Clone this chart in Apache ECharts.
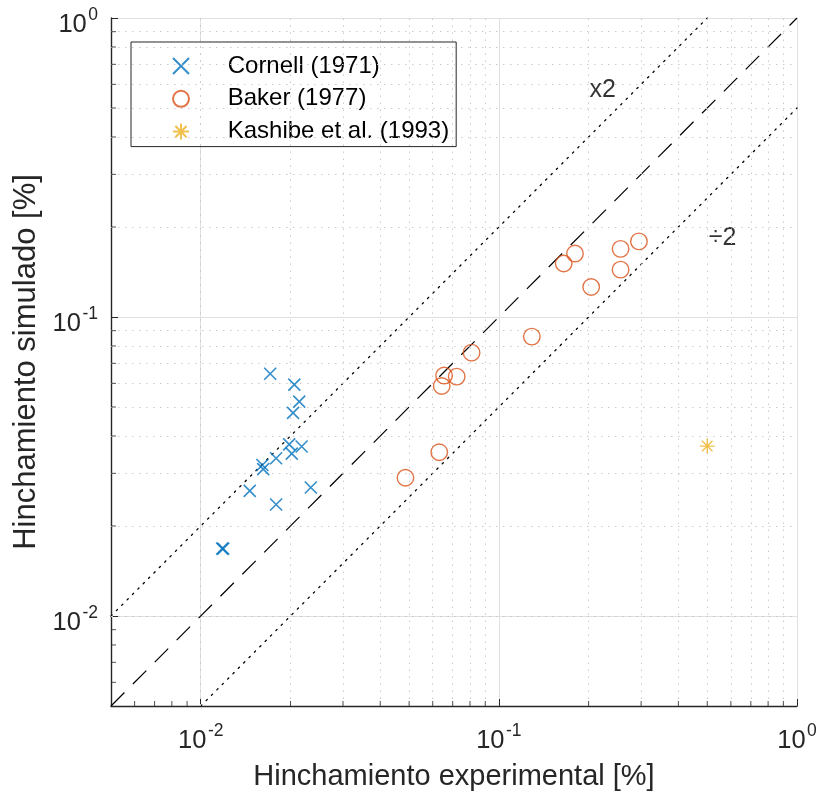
<!DOCTYPE html>
<html>
<head>
<meta charset="utf-8">
<script src="https://cdn.jsdelivr.net/npm/echarts@6/dist/echarts.min.js"></script>
<style>
  html, body { margin: 0; padding: 0; background: #ffffff; }
  #chart { width: 822px; height: 800px; }
</style>
</head>
<body>
<div id="chart"></div>
<script>
// Measured swelling (experimental) vs. simulated swelling, both in %
const cornellExp = [0.0171, 0.0206, 0.0214, 0.0204, 0.0198, 0.0218, 0.0202, 0.0179, 0.0161, 0.0162, 0.0146, 0.0234, 0.0179, 0.0118, 0.0119];
const cornellSim = [0.0646, 0.0594, 0.0521, 0.0478, 0.0375, 0.0369, 0.0349, 0.0337, 0.0320, 0.0310, 0.0262, 0.0269, 0.0236, 0.0168, 0.0168];

const bakerExp = [0.180, 0.165, 0.256, 0.295, 0.256, 0.204, 0.129, 0.081, 0.0655, 0.0722, 0.0643, 0.0631, 0.0486];
const bakerSim = [0.163, 0.151, 0.169, 0.179, 0.144, 0.126, 0.086, 0.076, 0.0637, 0.0632, 0.0588, 0.0353, 0.0290];

const kashibeExp = [0.50];
const kashibeSim = [0.037];

// Reference lines: 1:1, factor 2 above and below
const identityLine = [[0.005, 0.005], [1, 1]];
const doubleLine = [[0.005, 0.01], [0.5, 1]];
const halfLine = [[0.01, 0.005], [1, 0.5]];

// Annotation labels for the factor-2 bands
const bandLabels = [
  { text: 'x2', x: 0.223, y: 0.572 },
  { text: '\u00f72', x: 0.563, y: 0.184 }
];

// Axis range and minor (2..9 per decade) positions
const axisMin = 0.005;
const axisMax = 1;
const minorValues = [0.006, 0.007, 0.008, 0.009,
  0.02, 0.03, 0.04, 0.05, 0.06, 0.07, 0.08, 0.09,
  0.2, 0.3, 0.4, 0.5, 0.6, 0.7, 0.8, 0.9];

const FONT = '"Liberation Sans", Arial, Helvetica, sans-serif';
const INK = '#262626';

const zip = (a, b) => a.map((v, i) => [v, b[i]]);

function powerLabel(v) {
  const e = Math.log10(v);
  const r = Math.round(e);
  if (Math.abs(e - r) > 1e-6) return '';
  return '{b|10}{s|' + r + '}';
}

const powerRich = {
  b: { fontSize: 25.5, lineHeight: 37, fontFamily: FONT, color: INK, verticalAlign: 'middle' },
  s: { fontSize: 17.5, lineHeight: 17, fontFamily: FONT, color: INK, verticalAlign: 'top', padding: [0, 0, 0, 1.5] }
};

const crossPath = 'path://M0,0L10,10M10,0L0,10';
const starPath = 'path://M5,0L5,10M0,5L10,5M1.5,1.5L8.5,8.5M8.5,1.5L1.5,8.5';

const chart = echarts.init(document.getElementById('chart'), null, { renderer: 'canvas' });

const option = {
  animation: false,
  backgroundColor: '#ffffff',
  textStyle: { fontFamily: FONT },
  grid: { left: 111, right: 25, top: 18, bottom: 94, containLabel: false },
  legend: {
    data: ['Cornell (1971)', 'Baker (1977)', 'Kashibe et al. (1993)'],
    orient: 'vertical',
    left: 131,
    top: 42,
    padding: [12, 7, 3, 41],
    itemGap: 8.8,
    itemWidth: 16,
    itemHeight: 16,
    selectedMode: false,
    backgroundColor: '#ffffff',
    borderColor: INK,
    borderWidth: 1,
    borderRadius: 0,
    formatter: name => '{t|' + name + '}',
    textStyle: {
      rich: { t: { fontSize: 24, lineHeight: 26, color: '#000000', fontFamily: FONT, padding: [0, 0, 0, 33.7] } }
    }
  },
  xAxis: {
    type: 'log',
    logBase: 10,
    min: axisMin,
    max: axisMax,
    name: 'Hinchamiento experimental [%]',
    nameLocation: 'middle',
    nameGap: 56,
    nameTextStyle: { fontSize: 29, color: INK, fontFamily: FONT },
    axisLine: { show: true, onZero: false, lineStyle: { color: INK, width: 1.4 } },
    axisTick: { show: true, inside: true, length: 7, lineStyle: { color: INK, width: 1 } },
    splitLine: { show: true, lineStyle: { color: '#e0e0e0', width: 1 } },
    minorTick: { show: false },
    axisLabel: { margin: 16.5, fontSize: 25.5, formatter: powerLabel, rich: powerRich, showMinLabel: true, showMaxLabel: true }
  },
  yAxis: {
    type: 'log',
    logBase: 10,
    min: axisMin,
    max: axisMax,
    name: 'Hinchamiento simulado [%]',
    nameLocation: 'middle',
    nameGap: 67,
    nameRotate: 90,
    nameTextStyle: { fontSize: 31, color: INK, fontFamily: FONT },
    axisLine: { show: true, onZero: false, lineStyle: { color: INK, width: 1.4 } },
    axisTick: { show: true, inside: true, length: 7, lineStyle: { color: INK, width: 1 } },
    splitLine: { show: true, lineStyle: { color: '#e0e0e0', width: 1 } },
    minorTick: { show: false },
    axisLabel: { margin: 13, fontSize: 25.5, padding: [14, 0, 0, 0], formatter: powerLabel, rich: powerRich, showMinLabel: true, showMaxLabel: true }
  },
  series: [
    {
      // dotted minor grid
      name: 'minorGrid',
      type: 'scatter',
      data: [],
      silent: true,
      z: 1,
      markLine: {
        silent: true,
        symbol: ['none', 'none'],
        label: { show: false },
        animation: false,
        lineStyle: { color: '#cbcbcb', width: 1, type: [1.5, 5.5] },
        emphasis: { disabled: true },
        data: minorValues.map(v => ({ xAxis: v })).concat(minorValues.map(v => ({ yAxis: v })))
      }
    },
    {
      // minor ticks on the bottom axis
      name: 'minorTicksX',
      type: 'scatter',
      data: minorValues.map(v => [v, axisMin]),
      symbol: 'rect',
      symbolSize: [1, 5],
      symbolOffset: [0, -2.5],
      itemStyle: { color: INK },
      clip: false,
      silent: true,
      z: 5
    },
    {
      // minor ticks on the left axis
      name: 'minorTicksY',
      type: 'scatter',
      data: minorValues.map(v => [axisMin, v]),
      symbol: 'rect',
      symbolSize: [5, 1],
      symbolOffset: [2.5, 0],
      itemStyle: { color: INK },
      clip: false,
      silent: true,
      z: 5
    },
    {
      name: 'identity',
      type: 'line',
      data: identityLine,
      showSymbol: false,
      symbol: 'none',
      silent: true,
      z: 3,
      lineStyle: { color: '#000000', width: 1.2, type: [19, 12] }
    },
    {
      name: 'double',
      type: 'line',
      data: doubleLine,
      showSymbol: false,
      symbol: 'none',
      silent: true,
      z: 3,
      lineStyle: { color: '#000000', width: 1.3, type: [1.6, 6], cap: 'round' }
    },
    {
      name: 'half',
      type: 'line',
      data: halfLine,
      showSymbol: false,
      symbol: 'none',
      silent: true,
      z: 3,
      lineStyle: { color: '#000000', width: 1.3, type: [1.6, 6], cap: 'round' }
    },
    {
      name: 'bandLabels',
      type: 'scatter',
      data: bandLabels.map(d => ({ value: [d.x, d.y], label: { formatter: d.text } })),
      symbolSize: 2,
      itemStyle: { color: 'rgba(0,0,0,0)' },
      silent: true,
      z: 4,
      label: { show: true, position: 'inside', fontSize: 25, color: '#000000', fontFamily: FONT }
    },
    {
      name: 'Cornell (1971)',
      type: 'scatter',
      data: zip(cornellExp, cornellSim),
      symbol: crossPath,
      symbolSize: 12,
      itemStyle: { color: 'rgba(0,0,0,0)', borderColor: '#0072BD', borderWidth: 1.6 },
      emphasis: { disabled: true },
      z: 6
    },
    {
      name: 'Baker (1977)',
      type: 'scatter',
      data: zip(bakerExp, bakerSim),
      symbol: 'circle',
      symbolSize: 16.5,
      itemStyle: { color: 'rgba(0,0,0,0)', borderColor: '#D95319', borderWidth: 1.4 },
      emphasis: { disabled: true },
      z: 6
    },
    {
      name: 'Kashibe et al. (1993)',
      type: 'scatter',
      data: zip(kashibeExp, kashibeSim),
      symbol: starPath,
      symbolSize: 15,
      itemStyle: { color: 'rgba(0,0,0,0)', borderColor: '#EDB120', borderWidth: 1.4 },
      emphasis: { disabled: true },
      z: 6
    }
  ]
};

chart.setOption(option);
</script>
</body>
</html>
